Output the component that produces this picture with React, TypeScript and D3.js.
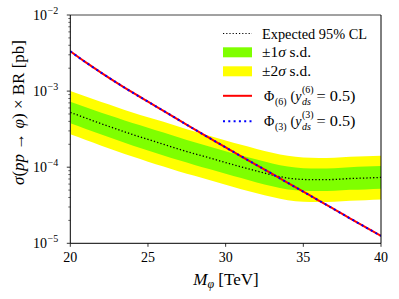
import React from "react";
import * as d3 from "d3";

const masses = [20, 21, 22, 23, 24, 25, 26, 27, 28, 29, 30, 31, 32, 33, 34, 35, 36, 37, 38, 39, 40];
const expected = [5.25e-4, 4.42e-4, 3.72e-4, 3.16e-4, 2.69e-4, 2.32e-4, 2.0e-4, 1.72e-4, 1.5e-4, 1.32e-4, 1.15e-4, 1.01e-4, 8.9e-5, 7.9e-5, 7.2e-5, 6.9e-5, 6.85e-5, 6.9e-5, 7.1e-5, 7.2e-5, 7.35e-5];
const sigma1Up = [7.25e-4, 6.15e-4, 5.2e-4, 4.45e-4, 3.8e-4, 3.3e-4, 2.85e-4, 2.45e-4, 2.12e-4, 1.86e-4, 1.62e-4, 1.42e-4, 1.26e-4, 1.12e-4, 1.02e-4, 9.7e-5, 9.6e-5, 9.7e-5, 1.0e-4, 1.02e-4, 1.04e-4];
const sigma1Down = [3.78e-4, 3.18e-4, 2.68e-4, 2.27e-4, 1.93e-4, 1.66e-4, 1.43e-4, 1.23e-4, 1.07e-4, 9.4e-5, 8.2e-5, 7.2e-5, 6.3e-5, 5.6e-5, 5.1e-5, 4.9e-5, 4.85e-5, 4.9e-5, 5.05e-5, 5.1e-5, 5.2e-5];
const sigma2Up = [1.0e-3, 8.5e-4, 7.2e-4, 6.15e-4, 5.25e-4, 4.55e-4, 3.95e-4, 3.4e-4, 2.95e-4, 2.58e-4, 2.25e-4, 1.97e-4, 1.74e-4, 1.55e-4, 1.41e-4, 1.34e-4, 1.32e-4, 1.33e-4, 1.37e-4, 1.39e-4, 1.41e-4];
const sigma2Down = [2.7e-4, 2.27e-4, 1.91e-4, 1.62e-4, 1.38e-4, 1.18e-4, 1.02e-4, 8.8e-5, 7.7e-5, 6.75e-5, 5.9e-5, 5.15e-5, 4.55e-5, 4.05e-5, 3.68e-5, 3.52e-5, 3.5e-5, 3.52e-5, 3.62e-5, 3.68e-5, 3.75e-5];
const theory = [3.33e-3, 2.38e-3, 1.74e-3, 1.285e-3, 9.6e-4, 7.26e-4, 5.5e-4, 4.16e-4, 3.14e-4, 2.39e-4, 1.82e-4, 1.39e-4, 1.064e-4, 8.15e-5, 6.22e-5, 4.76e-5, 3.65e-5, 2.79e-5, 2.13e-5, 1.63e-5, 1.25e-5];
const xTicks = [20, 25, 30, 35, 40];
const yExps = [-2, -3, -4, -5];

const SERIF = "'Liberation Serif', 'DejaVu Serif', serif";

export default function App() {
  const left = 70.3, right = 381, top = 15, bottom = 243.3;
  const x = d3.scaleLinear().domain([20, 40]).range([left, right]);
  const y = d3.scaleLog().domain([1e-5, 1e-2]).range([bottom, top]);

  const area = (up: number[], dn: number[]) =>
    d3.area<number>()
      .x((_, i) => x(masses[i]))
      .y0((_, i) => y(dn[i]))
      .y1((_, i) => y(up[i]))
      .curve(d3.curveMonotoneX)(masses) || "";
  const line = (vals: number[]) =>
    d3.line<number>()
      .x((_, i) => x(masses[i]))
      .y((_, i) => y(vals[i]))
      .curve(d3.curveMonotoneX)(masses) || "";

  const minorTicks: number[] = [];
  for (let e = -5; e < -2; e++) {
    for (let k = 2; k <= 9; k++) minorTicks.push(k * Math.pow(10, e));
  }

  const lx0 = 223, lx1 = 252, tx = 262;

  return (
    <svg width={399} height={299} style={{ position: "absolute", left: 0, top: 0 }} fontFamily={SERIF}>
      <rect width={399} height={299} fill="white" />
      <defs>
        <clipPath id="plotclip">
          <rect x={left} y={top} width={right - left} height={bottom - top} />
        </clipPath>
      </defs>
      <g clipPath="url(#plotclip)">
        <path d={area(sigma2Up, sigma2Down)} fill="#ffff00" />
        <path d={area(sigma1Up, sigma1Down)} fill="#7fff00" />
        <path d={line(expected)} fill="none" stroke="black" strokeWidth={1.3} strokeDasharray="1.3,2.1" />
        <path d={line(theory)} fill="none" stroke="#ff0000" strokeWidth={2} />
        <path d={line(theory)} fill="none" stroke="#0000ff" strokeWidth={2} strokeDasharray="2,3.3" />
      </g>
      {/* spines */}
      <line x1={left} x2={right} y1={top} y2={top} stroke="#444" strokeWidth={1} />
      <line x1={right} x2={right} y1={top} y2={bottom} stroke="black" strokeWidth={1} />
      <line x1={left} x2={left} y1={top} y2={bottom} stroke="black" strokeWidth={1} />
      <line x1={left} x2={right} y1={bottom} y2={bottom} stroke="black" strokeWidth={1} />
      {/* x ticks */}
      {xTicks.map((t) => (
        <g key={t}>
          <line x1={x(t)} x2={x(t)} y1={bottom} y2={bottom + 3.5} stroke="black" strokeWidth={0.8} />
          <text x={x(t)} y={261.5} fontSize={14} textAnchor="middle">{t}</text>
        </g>
      ))}
      {/* y ticks */}
      {yExps.map((e) => (
        <g key={e}>
          <line x1={left - 3.5} x2={left} y1={y(Math.pow(10, e))} y2={y(Math.pow(10, e))} stroke="black" strokeWidth={0.8} />
          <text x={47} y={y(Math.pow(10, e)) + 5} fontSize={14} textAnchor="end">10</text>
          <text x={47.5} y={y(Math.pow(10, e)) - 1} fontSize={10} textAnchor="start">{"\u2212" + Math.abs(e)}</text>
        </g>
      ))}
      {minorTicks.map((t, i) => (
        <line key={i} x1={left - 2} x2={left} y1={y(t)} y2={y(t)} stroke="black" strokeWidth={0.6} />
      ))}
      {/* axis labels */}
      <text x={226} y={285} fontSize={17} textAnchor="middle">
        <tspan fontStyle="italic">M</tspan>
        <tspan fontSize={12} fontStyle="italic" dy={3}>φ</tspan>
        <tspan dy={-3}> [TeV]</tspan>
      </text>
      <text transform="translate(23.5,112.5) rotate(-90)" fontSize={17} textAnchor="middle">
        <tspan fontStyle="italic">σ</tspan>
        <tspan>(</tspan>
        <tspan fontStyle="italic">pp</tspan>
        <tspan> → </tspan>
        <tspan fontStyle="italic">φ</tspan>
        <tspan>) × BR [pb]</tspan>
      </text>
      {/* legend */}
      <line x1={lx0} x2={lx1} y1={33.5} y2={33.5} stroke="black" strokeWidth={1.2} strokeDasharray="1.2,2" />
      <text x={tx} y={38.5} fontSize={14} textLength={105} lengthAdjust="spacingAndGlyphs">Expected 95% CL</text>
      <rect x={lx0} y={47.3} width={lx1 - lx0} height={10} fill="#7fff00" />
      <text x={tx} y={57} fontSize={14} textLength={49} lengthAdjust="spacingAndGlyphs">±1<tspan fontStyle="italic">σ</tspan> s.d.</text>
      <rect x={lx0} y={66.3} width={lx1 - lx0} height={10} fill="#ffff00" />
      <text x={tx} y={76.3} fontSize={14} textLength={49} lengthAdjust="spacingAndGlyphs">±2<tspan fontStyle="italic">σ</tspan> s.d.</text>
      <line x1={lx0} x2={lx1} y1={95.8} y2={95.8} stroke="#ff0000" strokeWidth={2} />
      {[["6", 101.2, false], ["3", 126.2, true]].map(([n, by, blue]) => {
        const b = by as number;
        return (
          <g key={n as string}>
            {blue ? (
              <line x1={lx0} x2={lx1} y1={b - 5} y2={b - 5} stroke="#0000ff" strokeWidth={2} strokeDasharray="2,3.3" />
            ) : null}
            <text x={264} y={b} fontSize={14}>Φ</text>
            <text x={275} y={b + 3.5} fontSize={10}>({n as string})</text>
            <text x={290.5} y={b} fontSize={14}>(<tspan fontStyle="italic">y</tspan></text>
            <text x={302} y={b - 8} fontSize={10}>({n as string})</text>
            <text x={302} y={b + 4} fontSize={10} fontStyle="italic">ds</text>
            <text x={316.5} y={b} fontSize={14} textLength={39} lengthAdjust="spacingAndGlyphs">= 0.5)</text>
          </g>
        );
      })}
    </svg>
  );
}
